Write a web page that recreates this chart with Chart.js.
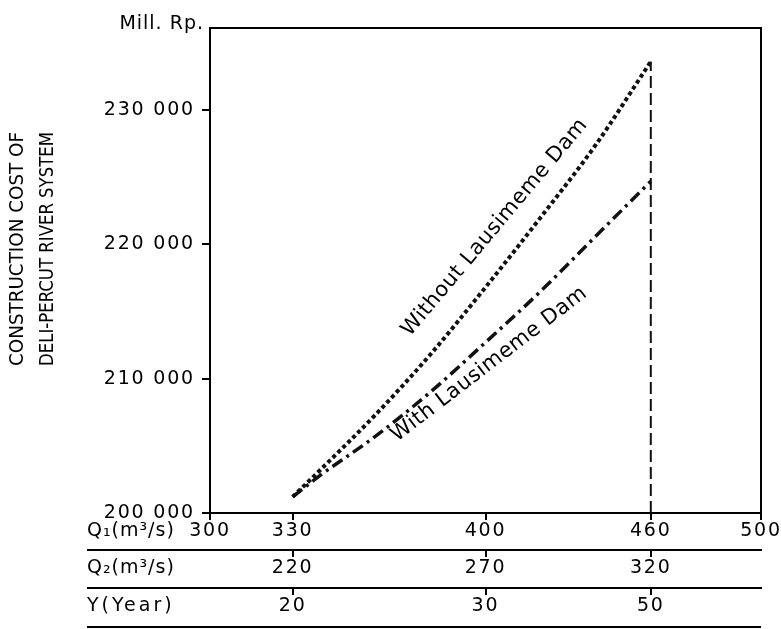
<!DOCTYPE html>
<html><head><meta charset="utf-8">
<script src="https://cdn.jsdelivr.net/npm/chart.js@4/dist/chart.umd.min.js"></script>
<style>html,body{margin:0;padding:0;background:#fff}canvas{display:block}</style>
</head><body>
<canvas id="c" width="781" height="629"></canvas>
<script>
// ---- data ----
const q1Values    = [330, 340, 360, 380, 400, 420, 440, 460];
const costWithout = [201200, 203200, 207300, 211800, 216800, 222000, 227400, 233600];
const costWith    = [201200, 202800, 205700, 209000, 212700, 216500, 220600, 224700];
const markerQ1    = [460, 460];
const markerCost  = [200000, 233600];
const q1Ticks     = [300, 330, 400, 460, 500];
const rowTickQ1   = [330, 400, 460];
const q2Labels    = ['220', '270', '320'];
const yearLabels  = ['20', '30', '50'];
const costTicks   = [200000, 210000, 220000, 230000];
const rowTitles   = ['Q\u2081(m\u00B3/s)', 'Q\u2082(m\u00B3/s)', 'Y(Year)'];
const seriesNames = ['Without Lausimeme Dam', 'With Lausimeme Dam'];
const yTitle      = ['CONSTRUCTION COST OF', 'DELI-PERCUT RIVER SYSTEM'];
const unitLabel   = 'Mill. Rp.';

const FONT = "'DejaVu Sans', 'Liberation Sans', Arial, sans-serif";
const tickFont = { family: FONT, size: 19 };
const fmt = v => String(v).replace(/\B(?=(\d{3})+(?!\d))/g, ' ');

function rowAxis(labels, height, weight) {
  return {
    type: 'linear', position: 'bottom', min: 300, max: 500, weight: weight,
    afterBuildTicks: s => { s.ticks = rowTickQ1.map(v => ({ value: v })); },
    afterFit: s => { s.height = height; },
    ticks: { callback: (v, i) => labels[i], font: tickFont, color: '#000', padding: 0, maxRotation: 0, autoSkip: false },
    grid: { drawOnChartArea: false, drawTicks: true, tickLength: 7, color: '#000', lineWidth: 2 },
    border: { display: true, color: '#000', width: 2 }
  };
}

const toPts = (xs, ys) => xs.map((x, i) => ({ x: x, y: ys[i] }));

const decor = {
  id: 'decor',
  beforeDraw(chart) { chart.ctx.letterSpacing = '1.8px'; },
  beforeDatasetsDraw(chart) { chart.ctx.letterSpacing = '0px'; },
  afterDraw(chart) {
    const ctx = chart.ctx, a = chart.chartArea, sx = chart.scales.x, sy = chart.scales.y;
    const s2 = chart.scales.x2, s3 = chart.scales.x3;
    ctx.save();
    ctx.strokeStyle = '#000'; ctx.fillStyle = '#000'; ctx.lineWidth = 2;
    // top and right frame
    ctx.beginPath();
    ctx.moveTo(a.left - 1, a.top); ctx.lineTo(a.right, a.top); ctx.lineTo(a.right, a.bottom);
    ctx.stroke();
    // row separator lines extending left
    const leftX = 87;
    ctx.beginPath();
    ctx.moveTo(leftX, s2.top); ctx.lineTo(a.left, s2.top);
    ctx.moveTo(leftX, s3.top); ctx.lineTo(a.left, s3.top);
    ctx.moveTo(leftX, s3.bottom - 2); ctx.lineTo(a.right, s3.bottom - 2);
    ctx.stroke();
    // row titles
    ctx.font = '19px ' + FONT;
    ctx.textAlign = 'left'; ctx.textBaseline = 'middle';
    ctx.letterSpacing = '1px';
    ctx.fillText(rowTitles[0], leftX, sx.top + 18);
    ctx.fillText(rowTitles[1], leftX, s2.top + 18);
    ctx.letterSpacing = '3px';
    ctx.fillText(rowTitles[2], leftX, s3.top + 18);
    // unit label
    ctx.letterSpacing = '1px';
    ctx.textAlign = 'right'; ctx.textBaseline = 'alphabetic';
    ctx.fillText(unitLabel, a.left - 6, a.top + 1);
    // y title
    ctx.letterSpacing = '0px';
    ctx.font = '19px ' + FONT;
    ctx.textAlign = 'center'; ctx.textBaseline = 'middle';
    const cy = 249;
    [[18, yTitle[0]], [48, yTitle[1]]].forEach(([xx, t]) => {
      ctx.save(); ctx.translate(xx, cy); ctx.rotate(-Math.PI / 2);
      ctx.fillText(t, 0, 0, 234); ctx.restore();
    });
    // series labels along curves
    ctx.font = '21px ' + FONT;
    ctx.letterSpacing = '0.5px';
    ctx.textAlign = 'left'; ctx.textBaseline = 'alphabetic';
    const lab = [
      [372.6, 213100, -50 * Math.PI / 180, seriesNames[0]],
      [367.9, 205285, -37.5 * Math.PI / 180, seriesNames[1]]
    ];
    lab.forEach(([xv, yv, ang, t]) => {
      ctx.save();
      ctx.translate(sx.getPixelForValue(xv), sy.getPixelForValue(yv));
      ctx.rotate(ang); ctx.fillText(t, 0, 0); ctx.restore();
    });
    ctx.restore();
  }
};

new Chart(document.getElementById('c'), {
  type: 'line',
  data: {
    datasets: [
      { label: seriesNames[0], data: toPts(q1Values, costWithout), borderColor: '#111', borderWidth: 4,
        borderDash: [4, 3], pointRadius: 0, cubicInterpolationMode: 'monotone', fill: false },
      { label: seriesNames[1], data: toPts(q1Values, costWith), borderColor: '#111', borderWidth: 3.5,
        borderDash: [12, 5, 3, 5], pointRadius: 0, cubicInterpolationMode: 'monotone', fill: false },
      { label: 'marker', data: toPts(markerQ1, markerCost), borderColor: '#111', borderWidth: 2,
        borderDash: [12, 5], pointRadius: 0, fill: false }
    ]
  },
  options: {
    responsive: false, animation: false,
    layout: { padding: { top: 28, right: 20, left: 0, bottom: 0 }, autoPadding: false },
    plugins: { legend: { display: false }, tooltip: { enabled: false } },
    scales: {
      x: {
        type: 'linear', position: 'bottom', min: 300, max: 500, weight: 1,
        afterBuildTicks: s => { s.ticks = q1Ticks.map(v => ({ value: v })); },
        afterFit: s => { s.height = 37; },
        ticks: { callback: v => String(v), font: tickFont, color: '#000', padding: 0, maxRotation: 0, autoSkip: false },
        grid: { drawOnChartArea: false, drawTicks: true, tickLength: 7, color: '#000', lineWidth: 2 },
        border: { display: true, color: '#000', width: 2 }
      },
      x2: rowAxis(q2Labels, 38, 2),
      x3: rowAxis(yearLabels, 41, 3),
      y: {
        type: 'linear', position: 'left', min: 200000, max: 236100,
        afterBuildTicks: s => { s.ticks = costTicks.map(v => ({ value: v })); },
        afterFit: s => { s.width = 210; },
        ticks: { callback: v => fmt(v), font: tickFont, color: '#000', padding: 7 },
        grid: { drawOnChartArea: false, drawTicks: true, tickLength: 8, color: '#000', lineWidth: 2 },
        border: { display: true, color: '#000', width: 2 }
      }
    }
  },
  plugins: [decor]
});
</script>
</body></html>
